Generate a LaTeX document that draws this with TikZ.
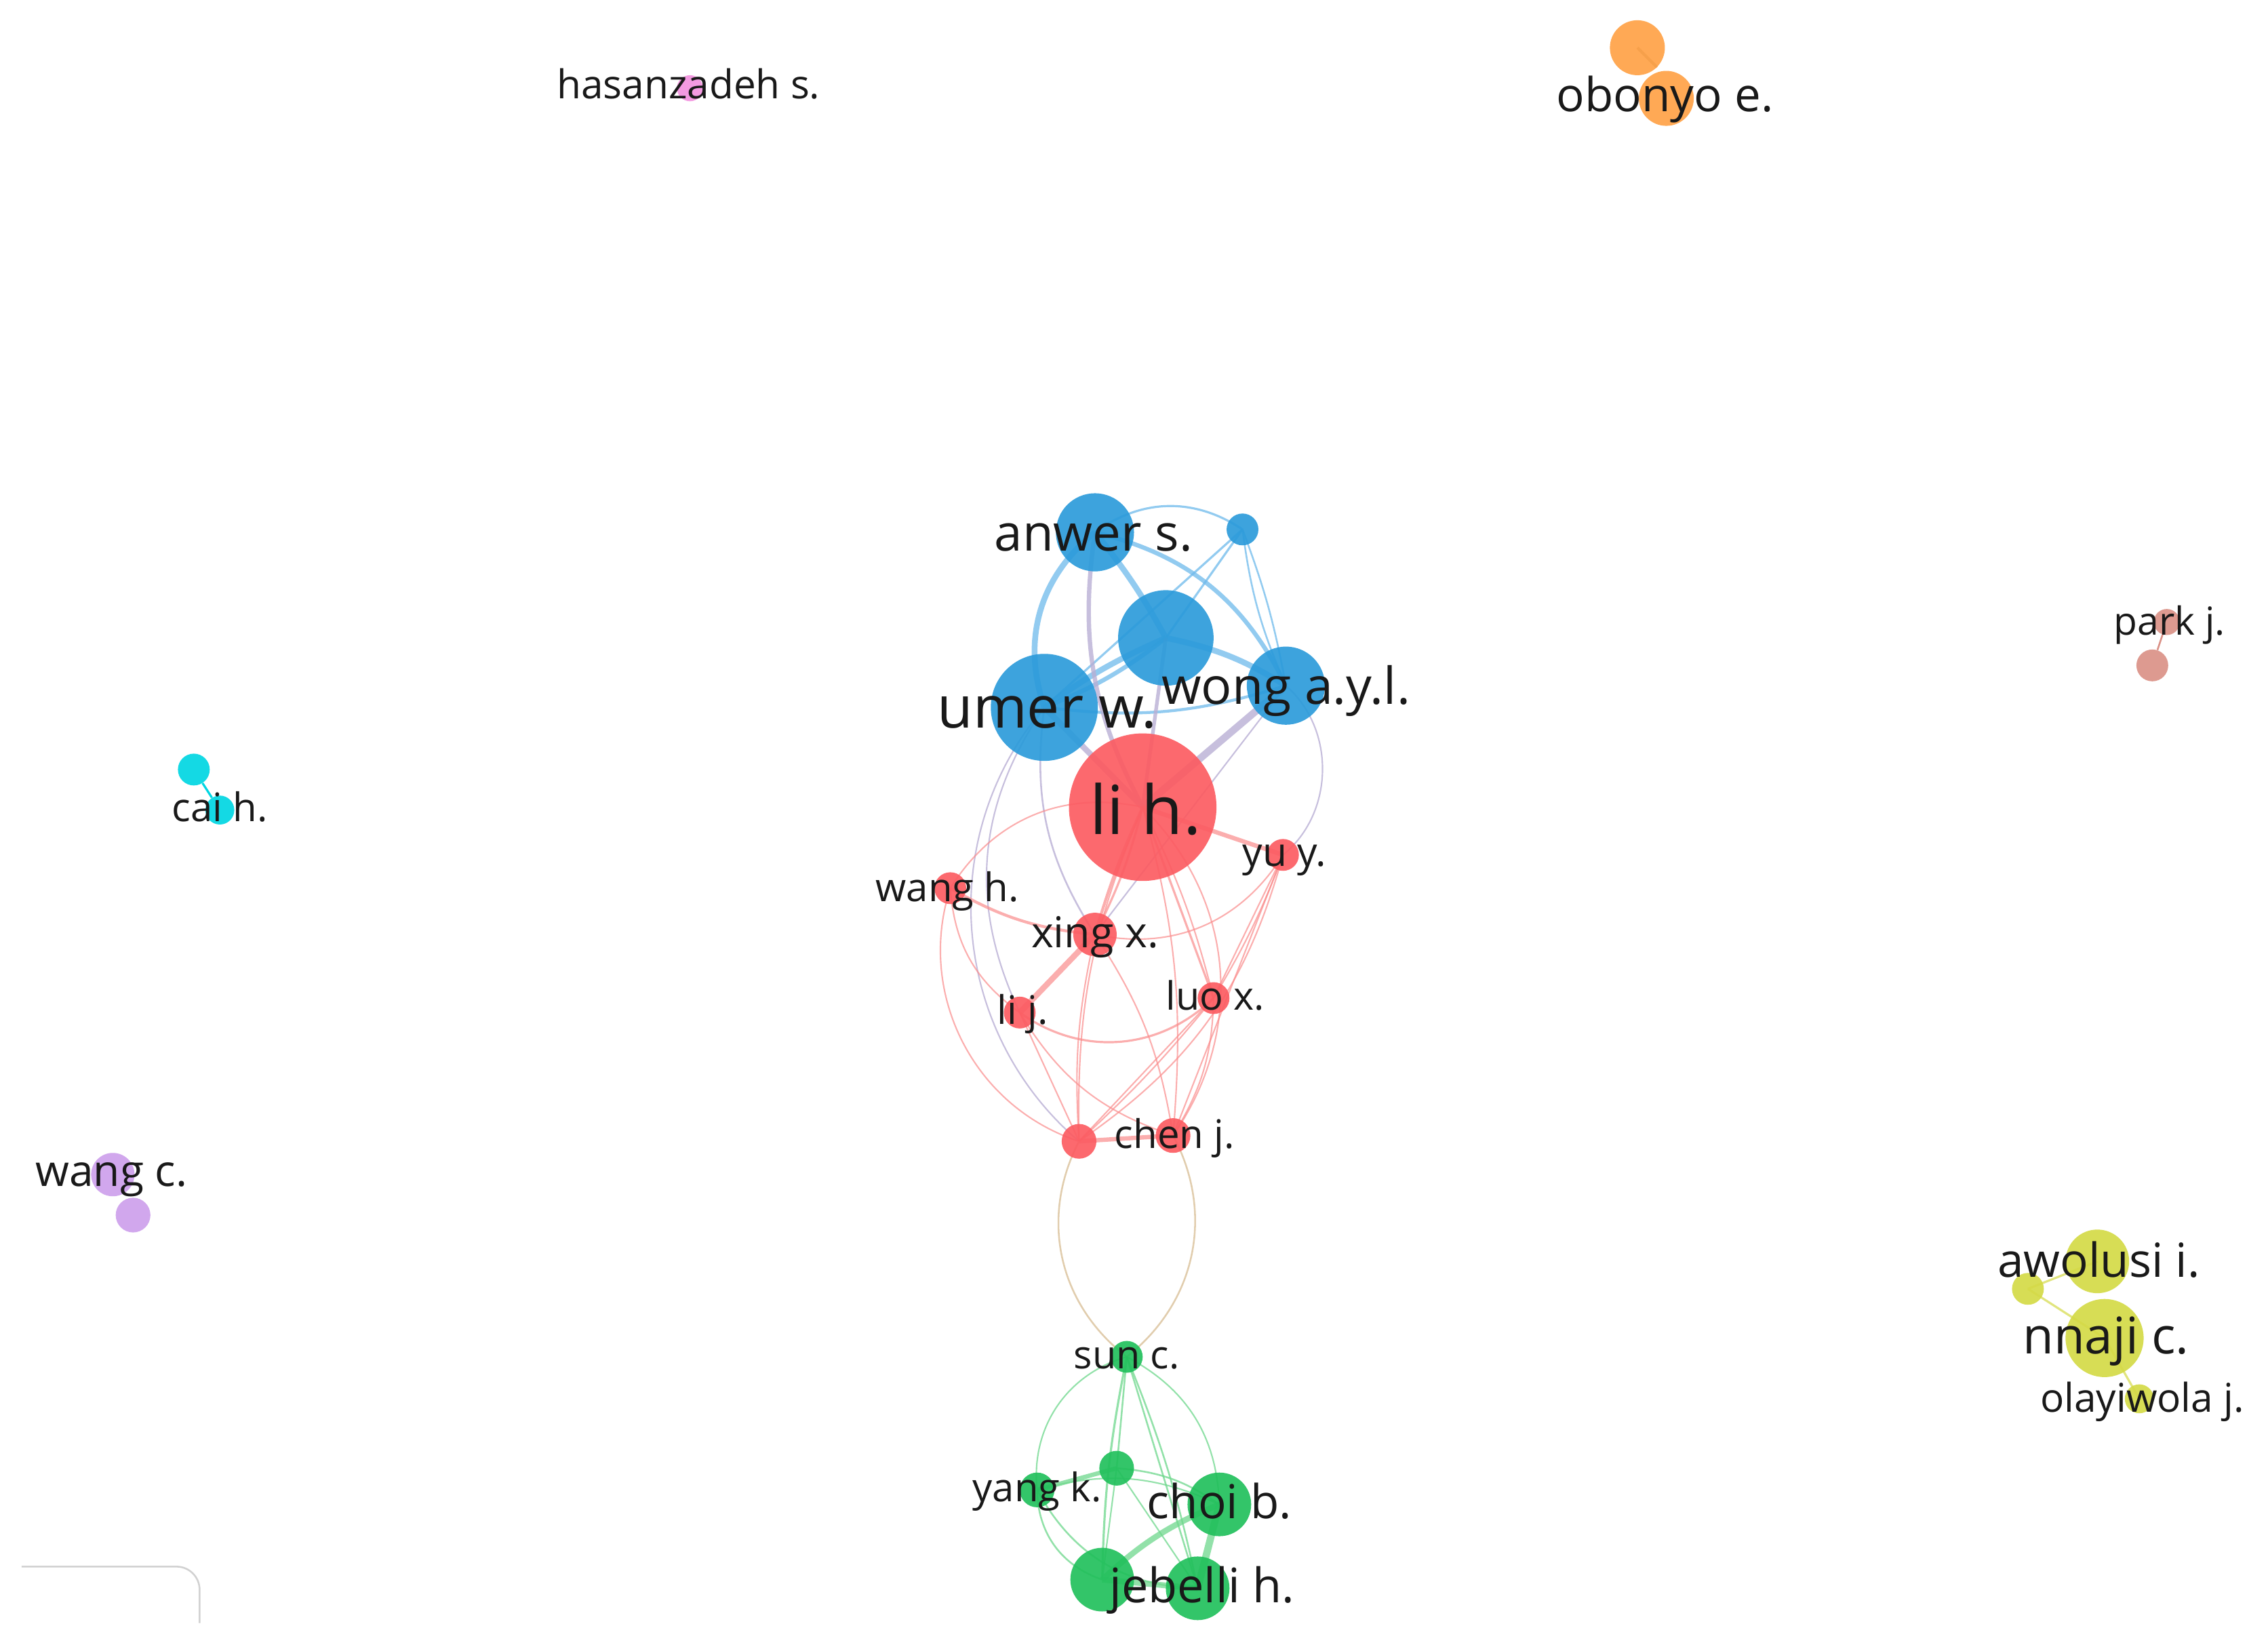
\documentclass[tikz,border=0pt]{standalone}
\usepackage{fontspec}
\setmainfont{Open Sans}
\usepackage{graphicx}
\definecolor{cblue}{RGB}{44,155,218}
\definecolor{cred}{RGB}{252,92,98}
\definecolor{cgreen}{RGB}{34,192,92}
\definecolor{corange}{RGB}{255,162,70}
\definecolor{cyel}{RGB}{212,218,70}
\definecolor{cpink}{RGB}{242,145,222}
\definecolor{cbrown}{RGB}{218,145,135}
\definecolor{ccyan}{RGB}{0,214,226}
\definecolor{cpurp}{RGB}{205,160,235}
\definecolor{eblue}{RGB}{110,185,235}
\definecolor{epurp}{RGB}{185,175,212}
\definecolor{ered}{RGB}{250,140,140}
\definecolor{egreen}{RGB}{110,215,140}
\definecolor{emix}{RGB}{222,200,165}
\definecolor{txt}{RGB}{25,25,25}
\newcommand\lw[2]{\resizebox{#1pt}{!}{#2}}
\begin{document}
\begin{tikzpicture}[x=1pt,y=-1pt,
  bub/.style={circle,inner sep=0pt,minimum size=2*#1,fill opacity=0.92},
  lab/.style={anchor=base,inner sep=0pt,text=txt},
  be/.style={draw=eblue,opacity=0.75,line width=#1},
  be/.default=1,
  pe/.style={draw=epurp,opacity=0.8,line width=#1},
  pe/.default=1,
  re/.style={draw=ered,opacity=0.7,line width=#1},
  re/.default=0.8,
  ge/.style={draw=egreen,opacity=0.75,line width=#1},
  ge/.default=1,
  me/.style={draw=emix,opacity=0.9,line width=#1},
  me/.default=1]
\useasboundingbox (0,0) rectangle (1568,1137);
% ---------- node positions ----------
\coordinate (Panwer) at (757,368);
\coordinate (Psmall) at (859,366);
\coordinate (Pcent) at (806,441);
\coordinate (Pumer) at (722,489);
\coordinate (Pwong) at (889,474);
\coordinate (Plih) at (790,558);
\coordinate (Pyu) at (887,591);
\coordinate (Pwangh) at (657,614);
\coordinate (Pxing) at (757,646);
\coordinate (Pluo) at (839,690);
\coordinate (Plij) at (705,700);
\coordinate (Pred) at (746,789);
\coordinate (Pchen) at (811,785);
\coordinate (Psun) at (779,938);
\coordinate (Pgr) at (772,1015);
\coordinate (Pyang) at (717,1030);
\coordinate (Pchoi) at (843,1040);
\coordinate (PjebL) at (762,1092);
\coordinate (PjebR) at (828,1098);
% ---------- edges: blue cluster ----------
\draw[be=1.5] (Panwer) to[bend left=35] (Psmall);
\draw[be=4] (Panwer) to[bend left=5] (Pcent);
\draw[be=4] (Panwer) to[bend right=35] (Pumer);
\draw[be=3] (Panwer) to[bend left=25] (Pwong);
\draw[be=1.5] (Psmall) -- (Pumer);
\draw[be=1.5] (Psmall) -- (Pcent);
\draw[be=1.2] (Psmall) to[bend left=5] (Pwong);
\draw[be=1.2] (Psmall) to[bend right=8] (Pwong);
\draw[be=4] (Pcent) to[bend right=6] (Pumer);
\draw[be=3] (Pcent) to[bend left=8] (Pumer);
\draw[be=4] (Pcent) to[bend left=10] (Pwong);
\draw[be=2] (Pumer) to[bend right=12] (Pwong);
% ---------- edges: blue-red ----------
\draw[pe=3] (Panwer) to[bend right=18] (Plih);
\draw[pe=5] (Pwong) -- (Plih);
\draw[pe=2.5] (Pcent) -- (Plih);
\draw[pe=4] (Pumer) -- (Plih);
\draw[pe=1.2] (Pumer) to[bend right=20] (Pxing);
\draw[pe=1] (Pumer) to[bend right=45] (Pred);
\draw[pe=1] (Pumer) to[bend right=30] (Plij);
\draw[pe=1] (Pwong) to[bend left=50] (Pyu);
\draw[pe=1] (Pwong) -- (Pxing);
% ---------- edges: red cluster ----------
\draw[re=1] (Plih) to[bend right=35] (Pwangh);
\draw[re=2] (Pwangh) to[bend right=12] (Pxing);
\draw[re=1] (Pxing) to[bend right=35] (Pyu);
\draw[re=2] (Plih) to[bend right=4] (Pxing);
\draw[re=1.5] (Plih) to[bend left=6] (Pxing);
\draw[re=4] (Pxing) -- (Plij);
\draw[re=3] (Plih) -- (Pyu);
\draw[re=1.5] (Plih) -- (Pluo);
\draw[re=1] (Plih) to[bend left=6] (Pluo);
\draw[re=1] (Pwangh) to[bend right=25] (Plij);
\draw[re=1] (Pwangh) to[bend right=45] (Pred);
\draw[re=1.5] (Plij) to[bend right=40] (Pluo);
\draw[re=1] (Plij) to[bend right=20] (Pchen);
\draw[re=1] (Plij) -- (Pred);
\draw[re=1] (Pluo) -- (Pred);
\draw[re=1] (Pluo) to[bend left=4] (Pred);
\draw[re=1] (Pluo) to[bend left=15] (Pchen);
\draw[re=1] (Pyu) -- (Pluo);
\draw[re=1] (Pyu) to[bend left=5] (Pluo);
\draw[re=1] (Pyu) -- (Pchen);
\draw[re=1] (Pxing) to[bend left=12] (Pchen);
\draw[re=1] (Pxing) to[bend right=8] (Pred);
\draw[re=3] (Pred) -- (Pchen);
\draw[re=1] (Plih) to[bend left=10] (Pchen);
\draw[re=1] (Plih) to[bend right=12] (Pred);
\draw[re=1] (Plih) to[bend left=40] (Pchen);
\draw[re=1] (Pyu) to[bend left=20] (Pred);
% ---------- edges: red-green ----------
\draw[me=1.2] (Pred) to[bend right=40] (Psun);
\draw[me=1.2] (Pchen) to[bend left=40] (Psun);
% ---------- edges: green cluster ----------
\draw[ge=1] (Psun) to[bend right=40] (Pyang);
\draw[ge=1.2] (Psun) -- (Pgr);
\draw[ge=1] (Psun) to[bend left=30] (Pchoi);
\draw[ge=1.5] (Psun) to[bend right=5] (PjebL);
\draw[ge=1.2] (Psun) to[bend left=5] (PjebR);
\draw[ge=1.2] (Psun) -- (PjebR);
\draw[ge=3] (Pyang) -- (Pgr);
\draw[ge=1.2] (Pyang) to[bend right=35] (PjebL);
\draw[ge=1.2] (Pyang) to[bend right=30] (PjebR);
\draw[ge=1] (Pyang) to[bend left=20] (Pchoi);
\draw[ge=1.2] (Pgr) to[bend left=15] (Pchoi);
\draw[ge=1] (Pgr) -- (PjebR);
\draw[ge=1] (Pgr) -- (PjebL);
\draw[ge=4] (Pchoi) to[bend right=10] (PjebL);
\draw[ge=5] (Pchoi) -- (PjebR);
\draw[ge=4] (PjebL) -- (PjebR);
% ---------- bubbles ----------
\node[bub=27,fill=cblue] (anwer) at (Panwer) {};
\node[bub=11,fill=cblue] (bsmall) at (Psmall) {};
\node[bub=33,fill=cblue] (bcent) at (Pcent) {};
\node[bub=37,fill=cblue] (umer) at (Pumer) {};
\node[bub=27,fill=cblue] (wong) at (Pwong) {};
\node[bub=51,fill=cred] (lih) at (Plih) {};
\node[bub=11,fill=cred] (yu) at (Pyu) {};
\node[bub=11,fill=cred] (wangh) at (Pwangh) {};
\node[bub=15,fill=cred] (xing) at (Pxing) {};
\node[bub=11,fill=cred] (luo) at (Pluo) {};
\node[bub=11,fill=cred] (lij) at (Plij) {};
\node[bub=12,fill=cred] (rred) at (Pred) {};
\node[bub=12,fill=cred] (chen) at (Pchen) {};
\node[bub=11,fill=cgreen] (sun) at (Psun) {};
\node[bub=12,fill=cgreen] (ggr) at (Pgr) {};
\node[bub=12,fill=cgreen] (yang) at (Pyang) {};
\node[bub=22,fill=cgreen] (choi) at (Pchoi) {};
\node[bub=22,fill=cgreen] (jebL) at (PjebL) {};
\node[bub=22,fill=cgreen] (jebR) at (PjebR) {};
% small clusters
\node[bub=19,fill=corange] (or1) at (1132,33) {};
\node[bub=19,fill=corange] (or2) at (1152,68) {};
\draw[draw=corange!80!brown,line width=2,opacity=0.6] (or1.center) -- (or1.south east);
\node[bub=9,fill=cpink] (hasan) at (477,61) {};
\node[bub=11,fill=cbrown] (park2) at (1488,460) {};
\node[bub=9,fill=cbrown] (park1) at (1498,430) {};
\draw[draw=cbrown,line width=1.2] (park2) -- (park1);
\node[bub=11,fill=ccyan] (cai1) at (134,532) {};
\node[bub=10,fill=ccyan] (cai2) at (152,560) {};
\draw[draw=ccyan,line width=1.5] (cai1) -- (cai2);
\node[bub=15,fill=cpurp] (wc1) at (78,812) {};
\node[bub=12,fill=cpurp] (wc2) at (92,840) {};
\draw[draw=cyel!70,line width=1.5] (1402,891) -- (1450,872);
\draw[draw=cyel!70,line width=1.5] (1402,891) -- (1455,925);
\draw[draw=cyel!70,line width=1.5] (1479,967) -- (1455,925);
\node[bub=22,fill=cyel] (awol) at (1450,872) {};
\node[bub=11,fill=cyel] (ysmall) at (1402,891) {};
\node[bub=27,fill=cyel] (nnaji) at (1455,925) {};
\node[bub=10,fill=cyel] (olay) at (1479,967) {};
% ---------- labels ----------
\node[lab] (Lanwer) at (756,381) {\lw{137}{anwer s.}};
\node[lab] (Lumer) at (724,503) {\lw{152}{umer w.}};
\node[lab] (Lwong) at (889,487) {\lw{172}{wong a.y.l.}};
\node[lab] (Llih) at (792,577) {\lw{77}{li h.}};
\node[lab] (Lyu) at (888,599) {\lw{58}{yu y.}};
\node[lab] (Lwangh) at (655,623) {\lw{99}{wang h.}};
\node[lab] (Lxing) at (757,655) {\lw{88}{xing x.}};
\node[lab] (Lluo) at (840,698) {\lw{68}{luo x.}};
\node[lab] (Llij) at (707,708) {\lw{35}{li j.}};
\node[lab] (Lchen) at (812,794) {\lw{83}{chen j.}};
\node[lab] (Lsun) at (779,946) {\lw{73}{sun c.}};
\node[lab] (Lyang) at (717,1038) {\lw{89}{yang k.}};
\node[lab] (Lchoi) at (843,1050) {\lw{100}{choi b.}};
\node[lab] (Ljeb) at (831,1108) {\lw{128}{jebelli h.}};
\node[lab] (Lobon) at (1151,77) {\lw{150}{obonyo e.}};
\node[lab] (Lhasan) at (476,68) {\lw{182}{hasanzadeh s.}};
\node[lab] (Lpark) at (1500,439) {\lw{77}{park j.}};
\node[lab] (Lcai) at (152,568) {\lw{66}{cai h.}};
\node[lab] (Lwangc) at (77,820) {\lw{105}{wang c.}};
\node[lab] (Lawol) at (1451,883) {\lw{140}{awolusi i.}};
\node[lab] (Lnnaji) at (1456,936) {\lw{115}{nnaji c.}};
\node[lab] (Lolay) at (1481,976) {\lw{141}{olayiwola j.}};
% ---------- corner frame ----------
\draw[black!18,line width=1.2] (15,1083) -- (122,1083) arc[start angle=-90,end angle=0,radius=16] -- (138,1122);
\end{tikzpicture}
\end{document}
